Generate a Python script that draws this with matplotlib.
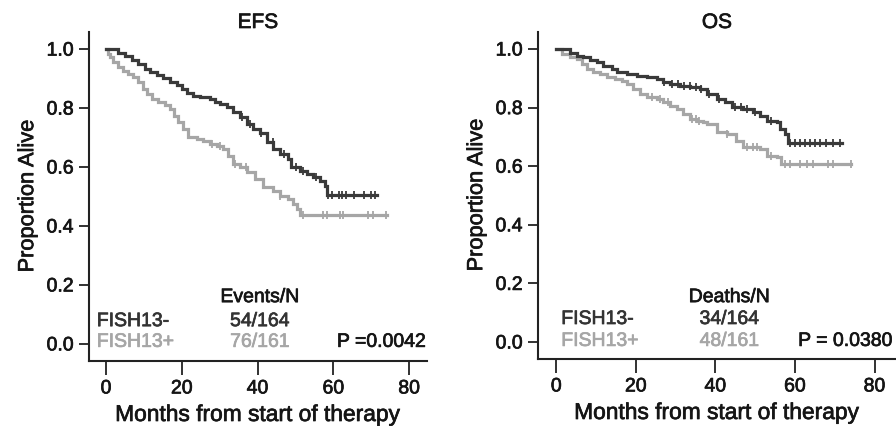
import numpy as np
import matplotlib
matplotlib.use("Agg")
import matplotlib.pyplot as plt
import matplotlib.patheffects as pe

plt.rcParams['font.family'] = ['Liberation Sans', 'DejaVu Sans']

# ---- data (months, proportion) ----
efs_neg_t = [0, 2.4, 3.2, 5.0, 6.8, 8.5, 10.3, 11.6, 13.4, 15.1, 16.9, 18.7, 20.0, 21.3, 23.0,
             24.8, 27.4, 28.8, 30.1, 31.8, 33.6, 35.4, 37.1, 38.9, 40.6, 42.4, 44.1, 45.9,
             48.1, 48.9, 51.2, 53.0, 54.7, 56.5, 57.8, 58.2, 71.4]
efs_neg_s = [1.0, 1.0, 0.986, 0.975, 0.964, 0.949, 0.932, 0.921, 0.912, 0.901, 0.889, 0.878,
             0.864, 0.850, 0.842, 0.836, 0.830, 0.821, 0.814, 0.802, 0.785, 0.768, 0.746,
             0.729, 0.715, 0.684, 0.661, 0.644, 0.627, 0.599, 0.588, 0.576, 0.565, 0.554,
             0.537, 0.505, 0.505]
efs_neg_cens = [36, 38, 41, 44, 47, 50, 52, 55.5, 58.6, 59.7, 61.4, 62.3, 63.2, 65.4, 68.0,
                69.8, 71.1]

efs_pos_t = [0, 0.4, 1.1, 1.9, 3.2, 4.6, 5.9, 7.2, 8.5, 9.8, 10.7, 12.1, 13.8, 15.6, 16.9,
             17.8, 19.1, 20.4, 21.7, 23.9, 25.7, 27.4, 29.2, 30.9, 32.3, 33.6, 35.4, 37.1,
             39.3, 41.5, 44.1, 45.9, 48.1, 49.4, 50.3, 51.2, 74.1]
efs_pos_s = [1.0, 0.985, 0.972, 0.955, 0.938, 0.927, 0.915, 0.904, 0.887, 0.864, 0.847, 0.831,
             0.819, 0.810, 0.797, 0.774, 0.752, 0.729, 0.701, 0.695, 0.689, 0.678, 0.672,
             0.661, 0.638, 0.610, 0.599, 0.582, 0.559, 0.531, 0.520, 0.503, 0.492, 0.475,
             0.458, 0.437, 0.437]
efs_pos_cens = [28, 30, 34, 37, 46, 52, 57.3, 58.2, 61.7, 62.5, 69.1, 70.4, 73.9]

os_neg_t = [0, 2.2, 3.4, 5.1, 6.8, 8.5, 10.2, 11.8, 13.9, 15.2, 17.7, 20.2, 22.7, 25.2, 26.9,
            28.6, 31.1, 33.6, 36.1, 37.8, 40.3, 42.4, 44.1, 47.0, 49.5, 51.2, 52.9, 55.4,
            56.2, 57.5, 58.3, 71.7]
os_neg_s = [1.0, 1.0, 0.986, 0.977, 0.972, 0.963, 0.955, 0.943, 0.932, 0.920, 0.915, 0.909,
            0.903, 0.898, 0.886, 0.881, 0.875, 0.869, 0.863, 0.846, 0.829, 0.818, 0.801,
            0.795, 0.784, 0.772, 0.755, 0.750, 0.727, 0.710, 0.679, 0.679]
os_neg_cens = [27, 29, 30.5, 32, 33.5, 35, 36.5, 38.5, 41, 45, 46.5, 48, 50, 54, 58.7, 60,
               61.2, 62.5, 63.7, 65, 66.3, 67.9, 69.6, 71.3]

os_pos_t = [0, 1.4, 3.4, 5.1, 6.4, 7.6, 9.3, 11.0, 12.7, 14.7, 16.4, 17.7, 19.3, 21.0, 22.7,
            25.2, 26.9, 28.6, 30.3, 31.9, 33.6, 35.3, 36.9, 37.8, 40.3, 42.8, 45.3, 47.0,
            51.2, 52.9, 55.4, 56.6, 74.2]
os_pos_s = [1.0, 0.983, 0.972, 0.966, 0.949, 0.932, 0.920, 0.915, 0.903, 0.898, 0.892, 0.881,
            0.863, 0.846, 0.835, 0.829, 0.818, 0.806, 0.795, 0.778, 0.761, 0.755, 0.750,
            0.744, 0.716, 0.710, 0.687, 0.664, 0.659, 0.636, 0.630, 0.608, 0.608]
os_pos_cens = [24, 26, 28, 34, 35, 36, 43, 48, 49.5, 50.5, 54, 57.5, 58.7, 61.2, 62.9,
               64.6, 68.3, 69.6, 74.2]

panels = [
    dict(title="EFS", header="Events/N", neg_lab="54/164", pos_lab="76/161", p="P =0.0042",
         neg=(efs_neg_t, efs_neg_s, efs_neg_cens), pos=(efs_pos_t, efs_pos_s, efs_pos_cens)),
    dict(title="OS", header="Deaths/N", neg_lab="34/164", pos_lab="48/161", p="P = 0.0380",
         neg=(os_neg_t, os_neg_s, os_neg_cens), pos=(os_pos_t, os_pos_s, os_pos_cens)),
]

DARK = "#3a3a3a"
LIGHT = "#a6a6a6"
INK = "#151515"

W, H = 896, 427
fig = plt.figure(figsize=(W / 100, H / 100), dpi=100)

# axes pixel boxes (left, right, top, bottom), x limits, text anchors
layout = [
    dict(box=(89, 427, 33, 362), xlim=(-4.5, 84.7), xf=0.023, xc=0.506, xp=0.998,
         yh=0.179, y1=0.106, y2=0.043),
    dict(box=(538, 896, 33, 360), xlim=(-4.6, 85.4), xf=0.065, xc=0.535, xp=0.991,
         yh=0.174, y1=0.107, y2=0.040),
]


def surv_at(t, s, c):
    t = np.asarray(t); s = np.asarray(s)
    idx = np.searchsorted(t, c, side='right') - 1
    return s[np.clip(idx, 0, len(s) - 1)]


def txt(ax, x, y, s, ha, color):
    t = ax.text(x, y, s, transform=ax.transAxes, ha=ha, va='baseline', fontsize=14,
                color=color)
    t.set_path_effects([pe.withStroke(linewidth=0.5, foreground=color)])


for pan, lay in zip(panels, layout):
    l, r, tp, bt = lay["box"]
    ax = fig.add_axes([l / W, 1 - bt / H, (r - l) / W, (bt - tp) / H])
    for (t, s, c), col in [(pan["pos"], LIGHT), (pan["neg"], DARK)]:
        ax.step(t, s, where='post', color=col, lw=2.3, solid_joinstyle='miter')
        ax.plot(c, surv_at(t, s, c), ls='none', marker='|', ms=5.5, mew=1.3, color=col)
    ax.set_xlim(*lay["xlim"])
    ax.set_ylim(-0.058, 1.058)
    ax.set_xticks([0, 20, 40, 60, 80])
    ax.set_yticks([0.0, 0.2, 0.4, 0.6, 0.8, 1.0])
    ax.set_yticklabels(["0.0", "0.2", "0.4", "0.6", "0.8", "1.0"])
    for sp in ["top", "right"]:
        ax.spines[sp].set_visible(False)
    for sp in ["left", "bottom"]:
        ax.spines[sp].set_linewidth(1.5)
        ax.spines[sp].set_color("#222222")
    ax.tick_params(direction='out', width=1.3, color="#222222", labelsize=14,
                   labelcolor=INK)
    ax.tick_params(axis='y', length=7.5, pad=3.5)
    ax.tick_params(axis='x', length=10, pad=4)
    for lab in ax.get_xticklabels() + ax.get_yticklabels():
        lab.set_path_effects([pe.withStroke(linewidth=0.5, foreground=INK)])
    ttl = ax.set_title(pan["title"], fontsize=15, pad=-1, color=INK)
    ttl.set_path_effects([pe.withStroke(linewidth=0.5, foreground=INK)])
    xl = ax.set_xlabel("Months from start of therapy", fontsize=16.4, color=INK, labelpad=4)
    yl = ax.set_ylabel("Proportion Alive", fontsize=15.7, color=INK, labelpad=6)
    for o in (xl, yl):
        o.set_path_effects([pe.withStroke(linewidth=0.5, foreground=INK)])

    txt(ax, lay["xc"], lay["yh"], pan["header"], 'center', INK)
    txt(ax, lay["xf"], lay["y1"], "FISH13-", 'left', "#333333")
    txt(ax, lay["xc"], lay["y1"], pan["neg_lab"], 'center', "#333333")
    txt(ax, lay["xf"], lay["y2"], "FISH13+", 'left', LIGHT)
    txt(ax, lay["xc"], lay["y2"], pan["pos_lab"], 'center', LIGHT)
    txt(ax, lay["xp"], lay["y2"], pan["p"], 'right', INK)

fig.savefig("out.png", dpi=100)
